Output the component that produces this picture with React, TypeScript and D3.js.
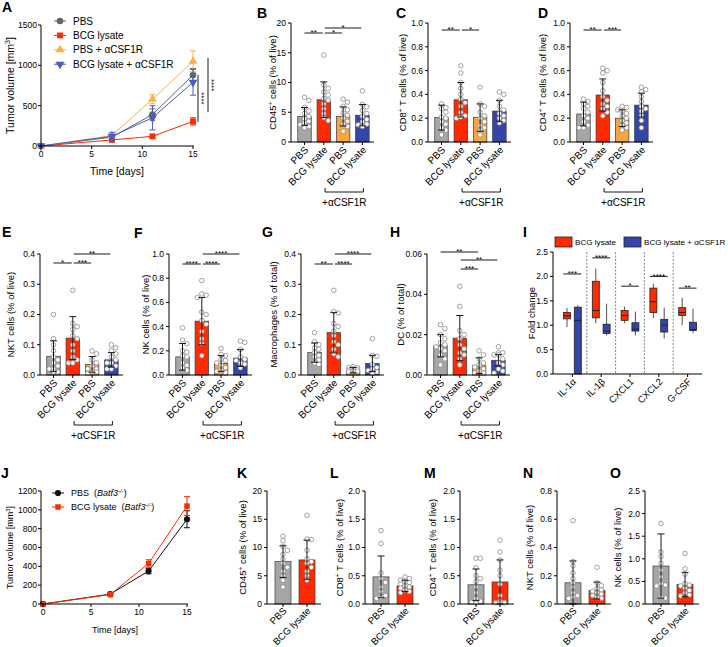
import React from "react";
import * as d3 from "d3";

const FONT = "'Liberation Sans', Arial, Helvetica, sans-serif";

// ---------- Panel A: tumor growth ----------
const days = [0, 7, 11, 15];
const xDayTicks = [0, 5, 10, 15];
const aYTicks = [0, 500, 1000, 1500];
const aSeriesNames = ["PBS", "BCG lysate", "PBS + αCSF1R", "BCG lysate + αCSF1R"];
const aPBS = [0, 110, 390, 880];
const aPBSErr = [0, 25, 70, 80];
const aBCG = [0, 75, 120, 305];
const aBCGErr = [0, 15, 20, 45];
const aPBSa = [0, 130, 580, 1050];
const aPBSaErr = [0, 20, 55, 130];
const aBCGa = [0, 120, 350, 790];
const aBCGaErr = [0, 50, 150, 160];
const aSigSpans = [[880, 300], [1090, 420]];
const aSigLabels = ["****", "****"];

// ---------- Panel J ----------
const jYTicks = [0, 200, 400, 600, 800, 1000, 1200];
const jPBS = [0, 105, 350, 900];
const jPBSErr = [0, 10, 30, 90];
const jBCG = [0, 100, 430, 1040];
const jBCGErr = [0, 10, 40, 100];

// ---------- bar panels ----------
const groups4 = ["PBS", "BCG lysate", "PBS", "BCG lysate"];
const groups2 = ["PBS", "BCG lysate"];
const treatLabel = "+αCSF1R";

const cd45Mean = [4.3, 7.1, 4.3, 4.5];
const cd45SD = [1.5, 3.0, 1.6, 1.8];
const cd45Pts = [
  [7.5, 7.0, 5.8, 5.2, 4.8, 4.3, 3.9, 3.5, 3.2, 2.9, 2.6, 2.4],
  [14.6, 9.6, 9.0, 8.4, 7.9, 7.3, 7.0, 6.4, 5.6, 4.8, 4.1, 3.6],
  [7.2, 6.7, 6.0, 5.4, 4.9, 4.5, 4.0, 3.5, 3.0, 2.6, 1.8],
  [8.6, 6.3, 5.9, 5.3, 4.8, 4.3, 3.8, 3.4, 3.0, 2.9, 2.6],
];
const cd45Sig: [number, number, string, number][] = [[0, 1, "**", 0], [1, 2, "*", 0], [1, 3, "*", 1]];

const cd8Mean = [0.205, 0.355, 0.205, 0.26];
const cd8SD = [0.105, 0.145, 0.115, 0.09];
const cd8Pts = [
  [0.32, 0.29, 0.28, 0.25, 0.21, 0.2, 0.17, 0.15, 0.12, 0.1, 0.06],
  [0.64, 0.58, 0.5, 0.45, 0.4, 0.36, 0.33, 0.3, 0.25, 0.22, 0.21, 0.2],
  [0.46, 0.32, 0.3, 0.25, 0.22, 0.2, 0.17, 0.14, 0.12, 0.1, 0.06],
  [0.42, 0.4, 0.35, 0.3, 0.27, 0.24, 0.22, 0.2, 0.18, 0.16],
];
const cd8Sig: [number, number, string, number][] = [[0, 1, "**", 0], [1, 2, "*", 0]];

const cd4Mean = [0.235, 0.395, 0.2, 0.31];
const cd4SD = [0.1, 0.135, 0.07, 0.1];
const cd4Pts = [
  [0.36, 0.34, 0.32, 0.3, 0.28, 0.25, 0.22, 0.2, 0.17, 0.14, 0.12, 0.12],
  [0.62, 0.6, 0.58, 0.5, 0.43, 0.38, 0.35, 0.32, 0.3, 0.28, 0.25, 0.22],
  [0.3, 0.29, 0.27, 0.26, 0.24, 0.22, 0.2, 0.18, 0.16, 0.14, 0.12, 0.1],
  [0.46, 0.44, 0.42, 0.38, 0.34, 0.3, 0.28, 0.26, 0.22, 0.18, 0.12],
];
const cd4Sig: [number, number, string, number][] = [[0, 1, "**", 0], [1, 2, "***", 0]];

const nktMean = [0.062, 0.122, 0.035, 0.05];
const nktSD = [0.051, 0.071, 0.026, 0.024];
const nktPts = [
  [0.2, 0.12, 0.1, 0.08, 0.06, 0.05, 0.04, 0.03, 0.02, 0.02, 0.01, 0.01],
  [0.28, 0.17, 0.16, 0.15, 0.13, 0.12, 0.1, 0.08, 0.06, 0.05, 0.04, 0.04],
  [0.08, 0.07, 0.05, 0.04, 0.03, 0.02, 0.02, 0.01, 0.01, 0.005],
  [0.1, 0.09, 0.08, 0.07, 0.06, 0.05, 0.04, 0.04, 0.03, 0.02, 0.02],
];
const nktSig: [number, number, string, number][] = [[0, 1, "*", 0], [1, 2, "***", 0], [1, 3, "**", 1]];

const nkMean = [0.15, 0.445, 0.095, 0.14];
const nkSD = [0.11, 0.195, 0.065, 0.07];
const nkPts = [
  [0.39, 0.29, 0.26, 0.2, 0.19, 0.16, 0.15, 0.1, 0.08, 0.06, 0.04],
  [0.78, 0.67, 0.66, 0.64, 0.52, 0.5, 0.45, 0.42, 0.36, 0.3, 0.26, 0.16],
  [0.22, 0.17, 0.16, 0.13, 0.12, 0.1, 0.08, 0.06, 0.04, 0.03, 0.02],
  [0.28, 0.27, 0.21, 0.15, 0.13, 0.12, 0.1, 0.09, 0.06],
];
const nkSig: [number, number, string, number][] = [[0, 1, "****", 0], [1, 2, "****", 0], [1, 3, "****", 1]];

const macMean = [0.074, 0.14, 0.016, 0.038];
const macSD = [0.032, 0.067, 0.009, 0.027];
const macPts = [
  [0.14, 0.11, 0.1, 0.09, 0.085, 0.075, 0.065, 0.06, 0.05, 0.04, 0.035],
  [0.28, 0.21, 0.205, 0.17, 0.16, 0.145, 0.13, 0.11, 0.1, 0.085, 0.07, 0.06],
  [0.028, 0.025, 0.024, 0.02, 0.018, 0.016, 0.014, 0.012, 0.01],
  [0.12, 0.065, 0.062, 0.035, 0.025, 0.02, 0.015, 0.01, 0.005],
];
const macSig: [number, number, string, number][] = [[0, 1, "**", 0], [1, 2, "****", 0], [1, 3, "****", 1]];

const dcMean = [0.0145, 0.0183, 0.0046, 0.0073];
const dcSD = [0.0055, 0.0112, 0.0039, 0.0028];
const dcPts = [
  [0.025, 0.023, 0.02, 0.018, 0.016, 0.015, 0.014, 0.013, 0.012, 0.01, 0.008, 0.005],
  [0.044, 0.034, 0.022, 0.02, 0.018, 0.015, 0.013, 0.011, 0.01, 0.008, 0.005],
  [0.012, 0.01, 0.008, 0.006, 0.005, 0.004, 0.003, 0.002, 0.001, 0.001],
  [0.014, 0.011, 0.011, 0.01, 0.01, 0.008, 0.006, 0.005, 0.003, 0.002, 0.001],
];
const dcSig: [number, number, string, number][] = [[1, 2, "***", 0], [1, 3, "**", 1], [0, 2, "**", 2]];

// ---------- Panel I: box plots ----------
const iCats = ["IL-1α", "IL-1β", "CXCL1", "CXCL2", "G-CSF"];
const iSeries = ["BCG lysate", "BCG lysate + αCSF1R"];
// [min, q1, median, q3, max]
const iBoxBCG = [
  [0.96, 1.13, 1.19, 1.26, 1.35],
  [1.04, 1.15, 1.3, 1.9, 2.16],
  [1.04, 1.1, 1.2, 1.3, 1.38],
  [1.15, 1.26, 1.48, 1.76, 1.85],
  [1.0, 1.2, 1.26, 1.36, 1.56],
];
const iBoxBCGa = [
  [0, 0, 1.1, 1.37, 1.41],
  [0.79, 0.83, 0.88, 1.02, 1.44],
  [0.79, 0.88, 0.92, 1.05, 1.28],
  [0.73, 0.86, 1.0, 1.12, 1.36],
  [0.84, 0.89, 0.91, 1.06, 1.34],
];
const iSigLabels = ["***", "****", "*", "****", "**"];
const iSigY = [2.05, 2.38, 1.8, 2.0, 1.76];

// ---------- Panels K-O ----------
const kMean = [7.5, 7.8];
const kSD = [2.8, 3.5];
const kPts = [
  [12.0, 11.2, 10.2, 9.5, 8.8, 8.0, 7.2, 6.5, 5.8, 5.0, 4.2, 3.0],
  [15.7, 11.5, 11.4, 9.5, 8.0, 7.5, 7.2, 6.5, 5.8, 5.0, 4.2],
];
const lMean = [0.48, 0.32];
const lSD = [0.37, 0.1];
const lPts = [
  [1.3, 1.07, 0.55, 0.45, 0.38, 0.3, 0.22, 0.15, 0.12, 0.1],
  [0.48, 0.45, 0.42, 0.4, 0.38, 0.35, 0.32, 0.3, 0.28, 0.25, 0.22, 0.2],
];
const mMean = [0.34, 0.39];
const mSD = [0.28, 0.39];
const mPts = [
  [0.81, 0.81, 0.64, 0.5, 0.45, 0.4, 0.3, 0.2, 0.1, 0.05, 0.03, 0.02],
  [1.13, 0.92, 0.78, 0.6, 0.5, 0.35, 0.15, 0.05, 0.03, 0.02, 0.02, 0.02],
];
const nMean = [0.15, 0.095];
const nSD = [0.155, 0.06];
const nPts = [
  [0.59, 0.3, 0.27, 0.22, 0.18, 0.15, 0.12, 0.08, 0.06, 0.05, 0.04],
  [0.26, 0.15, 0.13, 0.11, 0.1, 0.09, 0.08, 0.07, 0.06, 0.05, 0.04],
];
const oMean = [0.84, 0.43];
const oSD = [0.71, 0.27];
const oPts = [
  [1.78, 1.15, 1.05, 0.9, 0.75, 0.6, 0.45, 0.42, 0.4, 0.15, 0.13],
  [1.12, 0.78, 0.66, 0.45, 0.42, 0.4, 0.35, 0.3, 0.25, 0.2, 0.18],
];

// ---------- styles ----------
const barColors = ["#a6a6a6", "#ff2a00", "#f8a63c", "#3346a8"];
const lineColors = ["#666666", "#ff2a00", "#f9b24a", "#4a5cc0"];
const boxColors = ["#ff2a00", "#3346a8"];

type Seg = { t: string; sup?: boolean; it?: boolean };

function Segs({ segs, fs }: { segs: Seg[]; fs: number }) {
  const out: any[] = [];
  let shifted = false;
  segs.forEach((s, i) => {
    if (s.sup) {
      out.push(
        <tspan key={i} dy={-fs * 0.38} fontSize={fs * 0.68} fontStyle={s.it ? "italic" : undefined}>
          {s.t}
        </tspan>
      );
      shifted = true;
    } else {
      out.push(
        <tspan key={i} dy={shifted ? fs * 0.38 : undefined} fontStyle={s.it ? "italic" : undefined}>
          {s.t}
        </tspan>
      );
      shifted = false;
    }
  });
  return <>{out}</>;
}

function swarm(vals: number[], py: (v: number) => number, r: number, maxOff: number) {
  const order = vals.map((_, i) => i).sort((a, b) => vals[b] - vals[a]);
  const placed: { x: number; y: number }[] = [];
  const out: number[] = new Array(vals.length).fill(0);
  const step = r * 1.9;
  const cands = [0, step, -step, 2 * step, -2 * step].filter((o) => Math.abs(o) <= maxOff + 0.01);
  for (const i of order) {
    const y = py(vals[i]);
    let best = 0;
    let bestD = -1;
    for (const c of cands) {
      let minD = Infinity;
      for (const p of placed) {
        const d = Math.hypot(p.x - c, p.y - y);
        if (d < minD) minD = d;
      }
      if (minD >= 2 * r * 0.9) {
        best = c;
        bestD = Infinity;
        break;
      }
      if (minD > bestD) {
        bestD = minD;
        best = c;
      }
    }
    placed.push({ x: best, y });
    out[i] = best;
  }
  return out;
}

type BarCfg = {
  letter: string; lx: number; ly: number;
  x0: number; y0: number; y1: number; max: number; step: number; dec: number;
  means: number[]; sds: number[]; pts: number[][]; labels: string[];
  ylabel: Seg[]; ylx: number;
  sig?: [number, number, string, number][]; sigOff?: number[];
  bracket?: boolean;
};

function BarPanel({ c }: { c: BarCfg }) {
  const n = c.means.length;
  const four = n === 4;
  const first = four ? 13.5 : 16;
  const spacing = four ? 19.3 : 24;
  const bw = four ? 13.5 : 16;
  const xfs = four ? 10 : 9.6;
  const y = d3.scaleLinear().domain([0, c.max]).range([c.y0, c.y1]);
  const cx = (i: number) => c.x0 + first + i * spacing;
  const axisEnd = c.x0 + first * 2 + (n - 1) * spacing - 2;
  const ticks = d3.range(0, c.max + c.step * 0.5, c.step);
  const fmt = d3.format(`.${c.dec}f`);
  const r = 2.3;
  return (
    <g>
      <text x={c.lx} y={c.ly} fontSize={14} fontWeight="bold">{c.letter}</text>
      {c.means.map((m, i) => (
        <rect key={"b" + i} x={cx(i) - bw / 2} y={y(m)} width={bw} height={c.y0 - y(m)}
          fill={barColors[i]} stroke="#3a3a3a" strokeWidth={0.7} />
      ))}
      {c.pts.map((arr, i) => {
        const offs = swarm(arr, (v) => y(v), r, bw / 2 - r * 0.6);
        return arr.map((v, k) => (
          <circle key={"p" + i + "_" + k} cx={cx(i) + offs[k]} cy={y(v)} r={r}
            fill="#ffffff" stroke="#8a8a8a" strokeWidth={0.8} />
        ));
      })}
      {c.means.map((m, i) => {
        const lo = y(Math.max(0, m - c.sds[i]));
        const hi = y(m + c.sds[i]);
        return (
          <g key={"e" + i} stroke="#1a1a1a" strokeWidth={1}>
            <line x1={cx(i)} x2={cx(i)} y1={lo} y2={hi} />
            <line x1={cx(i) - 3.5} x2={cx(i) + 3.5} y1={hi} y2={hi} />
            <line x1={cx(i) - 3.5} x2={cx(i) + 3.5} y1={lo} y2={lo} />
          </g>
        );
      })}
      <line x1={c.x0} x2={c.x0} y1={c.y0} y2={c.y1} stroke="#000" strokeWidth={1} />
      <line x1={c.x0} x2={axisEnd} y1={c.y0} y2={c.y0} stroke="#000" strokeWidth={1} />
      {ticks.map((t, i) => (
        <g key={"t" + i}>
          <line x1={c.x0 - 3} x2={c.x0} y1={y(t)} y2={y(t)} stroke="#000" />
          <text x={c.x0 - 5} y={y(t)} dy="0.35em" textAnchor="end" fontSize={8.5}>{fmt(t)}</text>
        </g>
      ))}
      {c.labels.map((lab, i) => (
        <g key={"x" + i}>
          <line x1={cx(i)} x2={cx(i)} y1={c.y0} y2={c.y0 + 3} stroke="#000" />
          <text transform={`translate(${cx(i) + 2},${c.y0 + (four ? 6 : 5)}) rotate(-45)`} textAnchor="end" dy="0.35em" fontSize={xfs}>
            {lab}
          </text>
        </g>
      ))}
      <text transform={`translate(${c.ylx},${(c.y0 + c.y1) / 2}) rotate(-90)`} textAnchor="middle" dy="0.35em" fontSize={9.5}>
        <Segs segs={c.ylabel} fs={9.5} />
      </text>
      {c.sig && c.sig.map(([a, b, lab, lvl], k) => {
        const ly = c.y1 + (c.sigOff ? c.sigOff[lvl] : 10);
        const xa = cx(a) + (a > 0 ? 1 : 0);
        const xb = cx(b) - 1;
        return (
          <g key={"s" + k}>
            <line x1={xa} x2={xb} y1={ly} y2={ly} stroke="#000" strokeWidth={0.9} />
            <text x={(xa + xb) / 2} y={ly + 2.2} textAnchor="middle" fontSize={8}>{lab}</text>
          </g>
        );
      })}
      {c.bracket && (
        <g>
          <path d={`M${cx(2) - 18},${c.y0 + 46}V${c.y0 + 50}H${cx(3) + 1}V${c.y0 + 46}`} fill="none" stroke="#000" strokeWidth={0.9} />
          <text x={(cx(2) - 18 + cx(3) + 1) / 2} y={c.y0 + 64} textAnchor="middle" fontSize={10}>{treatLabel}</text>
        </g>
      )}
    </g>
  );
}

type LineSeries = { values: number[]; errs: number[]; color: string; sym: d3.SymbolType; size: number; rot?: number; name: Seg[] };

function LinePanel(props: {
  letter: string; lx: number; ly: number; x0: number; xStart: number; xEnd: number; y0: number; y1: number;
  yMax: number; yTicks: number[]; series: LineSeries[]; legendX: number; legendY: number; legendGap: number;
  titleFs: number; legendFs: number;
}) {
  const p = props;
  const x = d3.scaleLinear().domain([0, 15]).range([p.xStart, p.xEnd]);
  const y = d3.scaleLinear().domain([0, p.yMax]).range([p.y0, p.y1]);
  const line = d3.line<number>().x((_, i) => x(days[i])).y((v) => y(v));
  return (
    <g>
      <text x={p.lx} y={p.ly} fontSize={14} fontWeight="bold">{p.letter}</text>
      {p.series.map((s, si) => (
        <g key={si}>
          <path d={line(s.values) || ""} fill="none" stroke={s.color} strokeWidth={1} />
          {s.values.map((v, i) =>
            s.errs[i] > 0 ? (
              <g key={"e" + i} stroke={s.color} strokeWidth={1}>
                <line x1={x(days[i])} x2={x(days[i])} y1={y(v - s.errs[i])} y2={y(v + s.errs[i])} />
                <line x1={x(days[i]) - 3} x2={x(days[i]) + 3} y1={y(v + s.errs[i])} y2={y(v + s.errs[i])} />
                <line x1={x(days[i]) - 3} x2={x(days[i]) + 3} y1={y(v - s.errs[i])} y2={y(v - s.errs[i])} />
              </g>
            ) : null
          )}
          {s.values.map((v, i) => (
            <path key={"m" + i} d={d3.symbol().type(s.sym).size(s.size)() || ""}
              transform={`translate(${x(days[i])},${y(v)}) rotate(${s.rot || 0})`} fill={s.color} />
          ))}
        </g>
      ))}
      <line x1={p.x0} x2={p.x0} y1={p.y0} y2={p.y1} stroke="#000" />
      <line x1={p.x0} x2={p.xEnd + 1} y1={p.y0} y2={p.y0} stroke="#000" />
      {p.yTicks.map((t) => (
        <g key={"yt" + t}>
          <line x1={p.x0 - 3} x2={p.x0} y1={y(t)} y2={y(t)} stroke="#000" />
          <text x={p.x0 - 4} y={y(t)} dy="0.35em" textAnchor="end" fontSize={8.5}>{t}</text>
        </g>
      ))}
      {xDayTicks.map((t) => (
        <g key={"xt" + t}>
          <line x1={x(t)} x2={x(t)} y1={p.y0} y2={p.y0 + 3} stroke="#000" />
          <text x={x(t)} y={p.y0 + 11} textAnchor="middle" fontSize={8.5}>{t}</text>
        </g>
      ))}
      <text x={(p.xStart + p.xEnd) / 2} y={p.y0 + 29} textAnchor="middle" fontSize={p.titleFs}>Time [days]</text>
      <text transform={`translate(10,${(p.y0 + p.y1) / 2}) rotate(-90)`} textAnchor="middle" dy="0.35em" fontSize={p.titleFs}>
        <Segs segs={[{ t: "Tumor volume [mm" }, { t: "3", sup: true }, { t: "]" }]} fs={p.titleFs} />
      </text>
      {p.series.map((s, si) => {
        const ly = p.legendY + si * p.legendGap;
        return (
          <g key={"l" + si}>
            <line x1={p.legendX - 6} x2={p.legendX + 6} y1={ly} y2={ly} stroke={s.color} strokeWidth={1} />
            <path d={d3.symbol().type(s.sym).size(s.size)() || ""} transform={`translate(${p.legendX},${ly}) rotate(${s.rot || 0})`} fill={s.color} />
            <text x={p.legendX + 13} y={ly} dy="0.35em" fontSize={p.legendFs}>
              <Segs segs={s.name} fs={p.legendFs} />
            </text>
          </g>
        );
      })}
    </g>
  );
}

function BoxPanel() {
  const x0 = 553, xEnd = 702, y0 = 374, y1 = 252;
  const y = d3.scaleLinear().domain([0, 2.5]).range([y0, y1]);
  const band = d3.scaleBand().domain(iCats).range([558, xEnd]);
  const gc = (i: number) => (band(iCats[i]) as number) + band.bandwidth() / 2;
  const off = 5.4, bw = 7;
  const ticks = d3.range(0, 2.51, 0.5);
  const fmt = d3.format(".1f");
  return (
    <g>
      <text x={523} y={237} fontSize={14} fontWeight="bold">I</text>
      {iCats.slice(1).map((c, i) => (
        <line key={"d" + i} x1={band(c)} x2={band(c)} y1={y1} y2={y0} stroke="#777" strokeWidth={0.9} strokeDasharray="2,1.5" />
      ))}
      {[iBoxBCG, iBoxBCGa].map((boxes, si) =>
        boxes.map((b, i) => {
          const cx = gc(i) + (si === 0 ? -off : off);
          return (
            <g key={si + "_" + i} stroke="#222" strokeWidth={0.8}>
              <line x1={cx} x2={cx} y1={y(b[0])} y2={y(b[1])} />
              <line x1={cx} x2={cx} y1={y(b[3])} y2={y(b[4])} />
              <rect x={cx - bw / 2} y={y(b[3])} width={bw} height={y(b[1]) - y(b[3])} fill={boxColors[si]} />
              <line x1={cx - bw / 2} x2={cx + bw / 2} y1={y(b[2])} y2={y(b[2])} strokeWidth={1} />
            </g>
          );
        })
      )}
      {iSigLabels.map((lab, i) => {
        const ly = y(iSigY[i]);
        const xa = gc(i) - off - 3.5, xb = gc(i) + off + 3.5;
        return (
          <g key={"s" + i}>
            <line x1={xa} x2={xb} y1={ly} y2={ly} stroke="#000" strokeWidth={0.9} />
            <text x={(xa + xb) / 2} y={ly + 2.2} textAnchor="middle" fontSize={8}>{lab}</text>
          </g>
        );
      })}
      <line x1={x0} x2={x0} y1={y0} y2={y1} stroke="#000" />
      <line x1={x0} x2={xEnd} y1={y0} y2={y0} stroke="#000" />
      {ticks.map((t, i) => (
        <g key={"t" + i}>
          <line x1={x0 - 3} x2={x0} y1={y(t)} y2={y(t)} stroke="#000" />
          <text x={x0 - 5} y={y(t)} dy="0.35em" textAnchor="end" fontSize={8.5}>{fmt(t)}</text>
        </g>
      ))}
      {iCats.map((c, i) => (
        <g key={"x" + i}>
          <line x1={gc(i)} x2={gc(i)} y1={y0} y2={y0 + 3} stroke="#000" />
          <text transform={`translate(${gc(i) + 2},${y0 + 6}) rotate(-45)`} textAnchor="end" dy="0.35em" fontSize={9.5}>{c}</text>
        </g>
      ))}
      <text transform={`translate(532,313) rotate(-90)`} textAnchor="middle" dy="0.35em" fontSize={9.5}>Fold change</text>
      {iSeries.map((s, si) => {
        const lx = si === 0 ? 555 : 624;
        return (
          <g key={"lg" + si}>
            <rect x={lx} y={237} width={17} height={10} fill={boxColors[si]} stroke="#222" strokeWidth={0.8} />
            <text x={lx + 20} y={242} dy="0.35em" fontSize={8.1}>{s}</text>
          </g>
        );
      })}
    </g>
  );
}

const row1 = { y0: 142, y1: 23 };
const row2 = { y0: 375, y1: 254 };
const row3 = { y0: 604, y1: 491 };

const barCfgs: BarCfg[] = [
  { letter: "B", lx: 257, ly: 18, x0: 291, ...row1, max: 20, step: 5, dec: 0, means: cd45Mean, sds: cd45SD, pts: cd45Pts, labels: groups4,
    ylabel: [{ t: "CD45" }, { t: "+", sup: true }, { t: " cells (% of live)" }], ylx: 273, sig: cd45Sig, sigOff: [10, 5], bracket: true },
  { letter: "C", lx: 396, ly: 18, x0: 428, ...row1, max: 1, step: 0.2, dec: 1, means: cd8Mean, sds: cd8SD, pts: cd8Pts, labels: groups4,
    ylabel: [{ t: "CD8" }, { t: "+", sup: true }, { t: " T cells (% of live)" }], ylx: 403, sig: cd8Sig, sigOff: [7], bracket: true },
  { letter: "D", lx: 538, ly: 18, x0: 570, ...row1, max: 1, step: 0.2, dec: 1, means: cd4Mean, sds: cd4SD, pts: cd4Pts, labels: groups4,
    ylabel: [{ t: "CD4" }, { t: "+", sup: true }, { t: " T cells (% of live)" }], ylx: 543, sig: cd4Sig, sigOff: [7], bracket: true },
  { letter: "E", lx: 2, ly: 237, x0: 40, ...row2, max: 0.4, step: 0.1, dec: 1, means: nktMean, sds: nktSD, pts: nktPts, labels: groups4,
    ylabel: [{ t: "NKT cells (% of live)" }], ylx: 11, sig: nktSig, sigOff: [9, 0], bracket: true },
  { letter: "F", lx: 134, ly: 238, x0: 169, ...row2, max: 1, step: 0.2, dec: 1, means: nkMean, sds: nkSD, pts: nkPts, labels: groups4,
    ylabel: [{ t: "NK cells (% of live)" }], ylx: 146, sig: nkSig, sigOff: [10, 0], bracket: true },
  { letter: "G", lx: 262, ly: 237, x0: 301, ...row2, max: 0.4, step: 0.1, dec: 1, means: macMean, sds: macSD, pts: macPts, labels: groups4,
    ylabel: [{ t: "Macrophages (% of total)" }], ylx: 274, sig: macSig, sigOff: [10, 0], bracket: true },
  { letter: "H", lx: 390, ly: 237, x0: 427, ...row2, max: 0.06, step: 0.02, dec: 2, means: dcMean, sds: dcSD, pts: dcPts, labels: groups4,
    ylabel: [{ t: "DC (% of total)" }], ylx: 401, sig: dcSig, sigOff: [15, 6, -2], bracket: true },
  { letter: "K", lx: 237, ly: 478, x0: 267, ...row3, max: 20, step: 5, dec: 0, means: kMean, sds: kSD, pts: kPts, labels: groups2,
    ylabel: [{ t: "CD45" }, { t: "+", sup: true }, { t: " cells (% of live)" }], ylx: 243 },
  { letter: "L", lx: 330, ly: 478, x0: 365, ...row3, max: 2, step: 0.5, dec: 1, means: lMean, sds: lSD, pts: lPts, labels: groups2,
    ylabel: [{ t: "CD8" }, { t: "+", sup: true }, { t: " T cells (% of live)" }], ylx: 340 },
  { letter: "M", lx: 424, ly: 478, x0: 460, ...row3, max: 2, step: 0.5, dec: 1, means: mMean, sds: mSD, pts: mPts, labels: groups2,
    ylabel: [{ t: "CD4" }, { t: "+", sup: true }, { t: " T cells (% of live)" }], ylx: 433 },
  { letter: "N", lx: 523, ly: 478, x0: 557, ...row3, max: 0.8, step: 0.2, dec: 1, means: nMean, sds: nSD, pts: nPts, labels: groups2,
    ylabel: [{ t: "NKT cells (% of live)" }], ylx: 530 },
  { letter: "O", lx: 610, ly: 478, x0: 645, ...row3, max: 2.5, step: 0.5, dec: 1, means: oMean, sds: oSD, pts: oPts, labels: groups2,
    ylabel: [{ t: "NK cells (% of live)" }], ylx: 618 },
];

export default function App() {
  const aSeries: LineSeries[] = [
    { values: aPBS, errs: aPBSErr, color: lineColors[0], sym: d3.symbolCircle, size: 34, name: [{ t: aSeriesNames[0] }] },
    { values: aBCG, errs: aBCGErr, color: lineColors[1], sym: d3.symbolSquare, size: 34, name: [{ t: aSeriesNames[1] }] },
    { values: aPBSa, errs: aPBSaErr, color: lineColors[2], sym: d3.symbolTriangle, size: 34, name: [{ t: aSeriesNames[2] }] },
    { values: aBCGa, errs: aBCGaErr, color: lineColors[3], sym: d3.symbolTriangle, size: 34, rot: 180, name: [{ t: aSeriesNames[3] }] },
  ];
  const sp = "\u00a0\u00a0";
  const jSeries: LineSeries[] = [
    { values: jPBS, errs: jPBSErr, color: "#111111", sym: d3.symbolCircle, size: 30,
      name: [{ t: "PBS" + sp + "(" }, { t: "Batf3", it: true }, { t: "-/-", sup: true, it: true }, { t: ")" }] },
    { values: jBCG, errs: jBCGErr, color: "#ff2a00", sym: d3.symbolSquare, size: 30,
      name: [{ t: "BCG lysate" + sp + "(" }, { t: "Batf3", it: true }, { t: "-/-", sup: true, it: true }, { t: ")" }] },
  ];
  const yA = d3.scaleLinear().domain([0, 1500]).range([146, 25]);
  const sigX = [198, 208];
  return (
    <svg width={728} height={647} style={{ position: "absolute", left: 0, top: 0, background: "#fff" }}
      fontFamily={FONT} fill="#000">
      <rect width={728} height={647} fill="#fff" />
      <LinePanel letter="A" lx={2} ly={12} x0={41} xStart={41} xEnd={193} y0={146} y1={25} yMax={1500} yTicks={aYTicks}
        series={aSeries} legendX={60} legendY={21} legendGap={14.4} titleFs={10.5} legendFs={10} />
      {aSigSpans.map(([a, b], i) => (
        <g key={"as" + i}>
          <line x1={sigX[i]} x2={sigX[i]} y1={yA(a)} y2={yA(b)} stroke="#000" strokeWidth={0.9} />
          <text transform={`translate(${sigX[i]},${(yA(a) + yA(b)) / 2}) rotate(90)`} textAnchor="middle" dy={-1} fontSize={8}>
            {aSigLabels[i]}
          </text>
        </g>
      ))}
      {barCfgs.map((c) => <BarPanel key={c.letter} c={c} />)}
      <BoxPanel />
      <LinePanel letter="J" lx={1} ly={478} x0={41} xStart={43} xEnd={187} y0={604} y1={491} yMax={1200} yTicks={jYTicks}
        series={jSeries} legendX={58} legendY={493} legendGap={14} titleFs={9} legendFs={9} />
    </svg>
  );
}
